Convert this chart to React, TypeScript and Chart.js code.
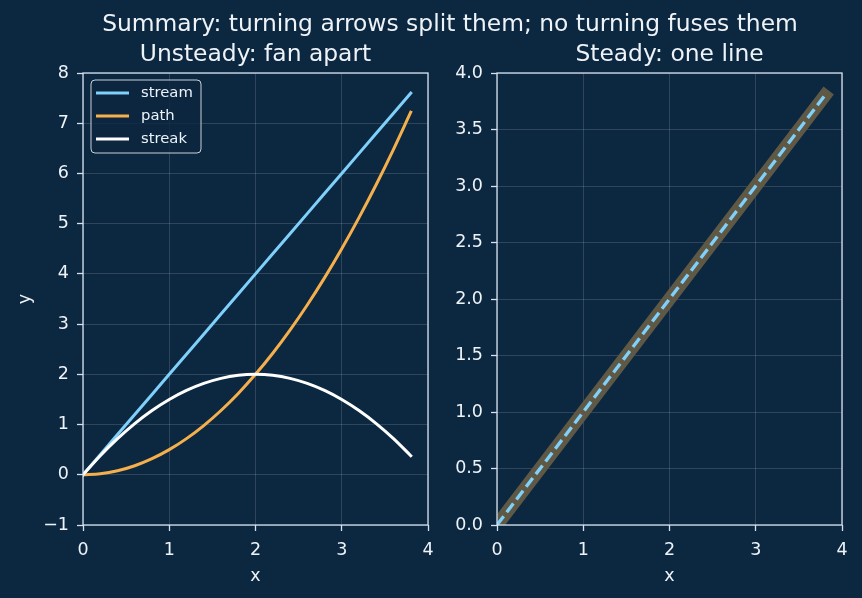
import React, { useEffect, useRef } from "react";
import { Chart, registerables } from "chart.js";

Chart.register(...registerables);

// ---- data ----
const xs = [0, 0.2, 0.4, 0.6, 0.8, 1.0, 1.2, 1.4, 1.6, 1.8, 2.0, 2.2, 2.4, 2.6, 2.8, 3.0, 3.2, 3.4, 3.6, 3.8];
const streamY = [0, 0.4, 0.8, 1.2, 1.6, 2.0, 2.4, 2.8, 3.2, 3.6, 4.0, 4.4, 4.8, 5.2, 5.6, 6.0, 6.4, 6.8, 7.2, 7.6];
const pathY = [0, 0.02, 0.08, 0.18, 0.32, 0.5, 0.72, 0.98, 1.28, 1.62, 2.0, 2.42, 2.88, 3.38, 3.92, 4.5, 5.12, 5.78, 6.48, 7.22];
const streakY = [0, 0.38, 0.72, 1.02, 1.28, 1.5, 1.68, 1.82, 1.92, 1.98, 2.0, 1.98, 1.92, 1.82, 1.68, 1.5, 1.28, 1.02, 0.72, 0.38];
const steadyX = [0, 3.8];
const steadyY = [0, 3.8];

const seriesNames = ["stream", "path", "streak"];
const suptitle = "Summary: turning arrows split them; no turning fuses them";
const leftTitle = "Unsteady: fan apart";
const rightTitle = "Steady: one line";

const leftXRange = [0, 4, 1];
const leftYRange = [-1, 8, 1];
const rightXRange = [0, 4, 1];
const rightYRange = [0, 4, 0.5];

// ---- styles ----
const BG = "#0c2740";
const TEXT = "#eef3f8";
const SPINE = "#d4e2ef";
const GRID = "rgba(255,255,255,0.18)";
const C_STREAM = "#7fd0fb";
const C_PATH = "#f5b04c";
const C_STREAK = "#ffffff";
const C_THICK = "#5e5845";
const FONT = "'DejaVu Sans', sans-serif";
const TICK_PX = 17.5;
const LW = 3;

const boxPlugin = {
  id: "box",
  afterDraw(chart: any) {
    const { ctx, chartArea: a } = chart;
    ctx.save();
    ctx.strokeStyle = SPINE;
    ctx.lineWidth = 1.3;
    ctx.strokeRect(a.left, a.top, a.right - a.left, a.bottom - a.top);
    ctx.restore();
  },
};

const legendPlugin = {
  id: "boxLegend",
  afterDraw(chart: any) {
    const { ctx, chartArea: a } = chart;
    const x0 = a.left + 8;
    const y0 = a.top + 7;
    const w = 110;
    const h = 73;
    ctx.save();
    ctx.beginPath();
    const r = 4;
    ctx.moveTo(x0 + r, y0);
    ctx.arcTo(x0 + w, y0, x0 + w, y0 + h, r);
    ctx.arcTo(x0 + w, y0 + h, x0, y0 + h, r);
    ctx.arcTo(x0, y0 + h, x0, y0, r);
    ctx.arcTo(x0, y0, x0 + w, y0, r);
    ctx.closePath();
    ctx.fillStyle = "rgba(12,39,64,0.8)";
    ctx.fill();
    ctx.strokeStyle = "#c9d2da";
    ctx.lineWidth = 1;
    ctx.stroke();
    const cols = [C_STREAM, C_PATH, C_STREAK];
    ctx.font = `14.8px ${FONT}`;
    ctx.textBaseline = "middle";
    ctx.textAlign = "left";
    seriesNames.forEach((n, i) => {
      const yy = y0 + 13 + i * 23;
      ctx.strokeStyle = cols[i];
      ctx.lineWidth = LW;
      ctx.beginPath();
      ctx.moveTo(x0 + 5, yy);
      ctx.lineTo(x0 + 38, yy);
      ctx.stroke();
      ctx.fillStyle = TEXT;
      ctx.fillText(n, x0 + 50, yy);
    });
    ctx.restore();
  },
};

function axis(range: number[], fixed: number, horizontal: boolean, title: string, fmt: (v: number) => string) {
  return {
    type: "linear",
    min: range[0],
    max: range[1],
    afterFit: (s: any) => {
      if (horizontal) s.height = fixed;
      else s.width = fixed;
      s.paddingLeft = 0;
      s.paddingRight = 0;
      s.paddingTop = 0;
      s.paddingBottom = 0;
    },
    ticks: {
      stepSize: range[2],
      color: TEXT,
      font: { size: TICK_PX, family: FONT },
      padding: horizontal ? 9 : 8,
      callback: (v: any) => fmt(Number(v)),
      maxRotation: 0,
      autoSkip: false,
    },
    grid: {
      color: GRID,
      lineWidth: 0.8,
      tickColor: SPINE,
      tickLength: 6,
      tickWidth: 1.3,
    },
    border: { display: false },
    title: {
      display: title !== "",
      text: title,
      color: TEXT,
      font: { size: TICK_PX, family: FONT },
      padding: horizontal ? { top: 0, bottom: 11 } : { top: 14.5, bottom: 0 },
    },
  };
}

const fmtInt = (v: number) => String(v).replace("-", "\u2212");
const fmt1 = (v: number) => v.toFixed(1).replace("-", "\u2212");

export default function App() {
  const leftRef = useRef<HTMLCanvasElement>(null);
  const rightRef = useRef<HTMLCanvasElement>(null);

  useEffect(() => {
    document.body.style.margin = "0";
    document.body.style.background = BG;
    const pts = (xv: number[], yv: number[]) => xv.map((x, i) => ({ x, y: yv[i] }));

    const left = new Chart(leftRef.current as HTMLCanvasElement, {
      type: "line",
      data: {
        datasets: [
          { label: seriesNames[0], data: pts(xs, streamY), borderColor: C_STREAM, borderWidth: LW, pointRadius: 0, borderCapStyle: "square", clip: 0, order: 3 } as any,
          { label: seriesNames[1], data: pts(xs, pathY), borderColor: C_PATH, borderWidth: LW, pointRadius: 0, cubicInterpolationMode: "monotone", borderCapStyle: "square", clip: 0, order: 2 } as any,
          { label: seriesNames[2], data: pts(xs, streakY), borderColor: C_STREAK, borderWidth: LW, pointRadius: 0, cubicInterpolationMode: "monotone", borderCapStyle: "square", clip: 0, order: 1 } as any,
        ],
      },
      options: {
        responsive: false,
        animation: false,
        devicePixelRatio: 1,
        layout: { padding: { top: 73, right: 22, bottom: 0, left: 0 } },
        plugins: { legend: { display: false }, tooltip: { enabled: false } },
        scales: {
          x: axis(leftXRange, 73, true, "x", fmtInt),
          y: axis(leftYRange, 83, false, "y", fmtInt),
        } as any,
      },
      plugins: [boxPlugin, legendPlugin],
    });

    const right = new Chart(rightRef.current as HTMLCanvasElement, {
      type: "line",
      data: {
        datasets: [
          { label: "steady", data: pts(steadyX, steadyY), borderColor: C_THICK, borderWidth: 13, pointRadius: 0, borderCapStyle: "square", clip: 0, order: 2 } as any,
          { label: "steady-dash", data: pts(steadyX, steadyY), borderColor: C_STREAM, borderWidth: 3.3, borderDash: [11, 5], pointRadius: 0, clip: 0, order: 1 } as any,
        ],
      },
      options: {
        responsive: false,
        animation: false,
        devicePixelRatio: 1,
        layout: { padding: { top: 73, right: 20, bottom: 0, left: 0 } },
        plugins: { legend: { display: false }, tooltip: { enabled: false } },
        scales: {
          x: axis(rightXRange, 73, true, "x", fmtInt),
          y: axis(rightYRange, 66, false, "", fmt1),
        } as any,
      },
      plugins: [boxPlugin],
    });

    return () => {
      left.destroy();
      right.destroy();
    };
  }, []);

  const titleStyle = (cx: number, cy: number): React.CSSProperties => ({
    position: "absolute",
    left: cx - 400,
    width: 800,
    top: cy - 15,
    height: 30,
    lineHeight: "30px",
    textAlign: "center",
    color: TEXT,
    fontFamily: FONT,
    fontSize: 23.4,
    whiteSpace: "nowrap",
  });

  return (
    <div style={{ position: "fixed", left: 0, top: 0, width: 862, height: 598, background: BG, overflow: "hidden" }}>
      <canvas ref={leftRef} width={450} height={598} style={{ position: "absolute", left: 0, top: 0, width: 450, height: 598 }} />
      <canvas ref={rightRef} width={431} height={598} style={{ position: "absolute", left: 431, top: 0, width: 431, height: 598 }} />
      <div style={titleStyle(450, 23)}>{suptitle}</div>
      <div style={titleStyle(255.5, 53)}>{leftTitle}</div>
      <div style={titleStyle(669.5, 53)}>{rightTitle}</div>
    </div>
  );
}
